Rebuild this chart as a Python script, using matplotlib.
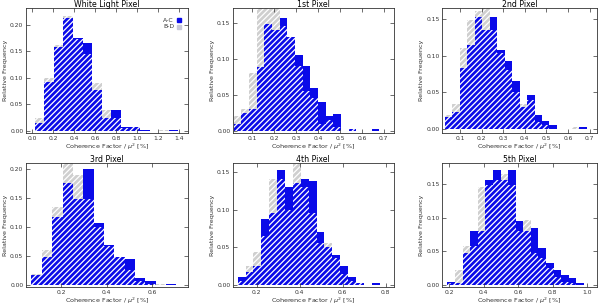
import numpy as np
import matplotlib
matplotlib.use('Agg')
import matplotlib.pyplot as plt
from matplotlib.ticker import MultipleLocator, FormatStrFormatter

titles = ['White Light Pixel', '1st Pixel', '2nd Pixel',
          '3rd Pixel', '4th Pixel', '5th Pixel']

# histogram binning (first edge, bin width) for each panel
bin_start = [0.025, 0.015, 0.031, 0.070, 0.111, 0.190]
bin_width = [0.091, 0.035, 0.0345, 0.0455, 0.0367, 0.044]

# relative frequencies, A-C (blue) and B-D (grey)
ac_white = [0.015, 0.093, 0.158, 0.213, 0.176, 0.165, 0.077, 0.025, 0.039,
            0.008, 0.008, 0.002, 0.0, 0.0, 0.002]
bd_white = [0.025, 0.100, 0.162, 0.217, 0.174, 0.145, 0.090, 0.039, 0.025,
            0.005, 0.008, 0.0, 0.0, 0.002, 0.0]

ac_px1 = [0.010, 0.025, 0.030, 0.088, 0.148, 0.140, 0.157, 0.130, 0.105, 0.090,
          0.060, 0.040, 0.020, 0.023, 0.0, 0.003, 0.0, 0.0, 0.003]
bd_px1 = [0.020, 0.030, 0.080, 0.190, 0.200, 0.180, 0.145, 0.130, 0.090, 0.055,
          0.045, 0.010, 0.015, 0.005, 0.0, 0.003, 0.0, 0.0, 0.0]

ac_px2 = [0.017, 0.023, 0.083, 0.114, 0.152, 0.134, 0.152, 0.108, 0.092, 0.066,
          0.030, 0.047, 0.020, 0.012, 0.006, 0.0, 0.0, 0.0, 0.003]
bd_px2 = [0.020, 0.035, 0.110, 0.148, 0.160, 0.165, 0.134, 0.104, 0.080, 0.050,
          0.035, 0.040, 0.010, 0.006, 0.0, 0.0, 0.0, 0.003, 0.0]

ac_px3 = [0.018, 0.048, 0.118, 0.175, 0.148, 0.200, 0.107, 0.070, 0.048, 0.045,
          0.013, 0.007, 0.0, 0.003]
bd_px3 = [0.020, 0.060, 0.135, 0.210, 0.190, 0.148, 0.100, 0.068, 0.048, 0.027,
          0.007, 0.003, 0.002, 0.0]

ac_px4 = [0.010, 0.017, 0.025, 0.088, 0.095, 0.152, 0.130, 0.135, 0.140, 0.138,
          0.070, 0.050, 0.040, 0.025, 0.010, 0.003, 0.0, 0.003]
bd_px4 = [0.005, 0.025, 0.043, 0.065, 0.140, 0.140, 0.100, 0.160, 0.130, 0.095,
          0.055, 0.055, 0.035, 0.015, 0.005, 0.003, 0.0, 0.0]

ac_px5 = [0.005, 0.003, 0.048, 0.080, 0.080, 0.155, 0.170, 0.155, 0.170, 0.095,
          0.080, 0.085, 0.055, 0.032, 0.022, 0.015, 0.010, 0.003]
bd_px5 = [0.003, 0.022, 0.058, 0.058, 0.145, 0.148, 0.155, 0.165, 0.148, 0.080,
          0.097, 0.048, 0.040, 0.025, 0.012, 0.005, 0.003, 0.0]

ac_all = [ac_white, ac_px1, ac_px2, ac_px3, ac_px4, ac_px5]
bd_all = [bd_white, bd_px1, bd_px2, bd_px3, bd_px4, bd_px5]

xlims = [(-0.06, 1.48), (0.011, 0.745), (0.018, 0.734),
         (0.045, 0.757), (0.088, 0.837), (0.16, 1.057)]
ylims = [(-0.004, 0.231), (-0.003, 0.17), (-0.005, 0.164),
         (-0.003, 0.21), (-0.003, 0.162), (-0.003, 0.181)]
xstep = [0.2, 0.1, 0.1, 0.2, 0.2, 0.2]

BLUE = '#0a0ae8'
GREY = '#cfcfcf'
AXC = '#333333'

plt.rcParams['hatch.linewidth'] = 0.9
plt.rcParams['font.family'] = 'DejaVu Sans'

fig = plt.figure(figsize=(6.0, 3.08), dpi=100)

# axes boxes in figure fraction
lefts = [0.043, 0.388, 0.737]
widths = [0.270, 0.268, 0.258]
bottoms = [0.568, 0.068]
heights = [0.405, 0.403]

for i in range(6):
    r, c = divmod(i, 3)
    ax = fig.add_axes([lefts[c], bottoms[r], widths[c], heights[r]])
    ac = np.array(ac_all[i])
    bd = np.array(bd_all[i])
    left = bin_start[i] + bin_width[i] * np.arange(len(ac))
    w = bin_width[i]
    ax.bar(left, bd, w, align='edge', color=GREY, lw=0)
    ax.bar(left, ac, w, align='edge', color=BLUE, lw=0)
    ax.bar(left, bd, w, align='edge', facecolor='none', edgecolor='white',
           hatch='//////', lw=0)

    ax.set_xlim(*xlims[i])
    ax.set_ylim(*ylims[i])
    ax.xaxis.set_major_locator(MultipleLocator(xstep[i]))
    ax.yaxis.set_major_locator(MultipleLocator(0.05))
    ax.xaxis.set_major_formatter(FormatStrFormatter('%.1f'))
    ax.yaxis.set_major_formatter(FormatStrFormatter('%.2f'))
    ax.tick_params(direction='in', top=True, right=True, length=3, width=0.5,
                   labelsize=4.3, colors=AXC, pad=1.8)
    for s in ax.spines.values():
        s.set_linewidth(0.6)
        s.set_color(AXC)
    ax.set_title(titles[i], fontsize=5.6, pad=1.0, color='black')
    ax.set_xlabel(r'Coherence Factor / $\mu^2$ [%]', fontsize=4.6, labelpad=0.5,
                  color=AXC)
    ax.set_ylabel('Relative Frequency', fontsize=4.6, labelpad=1.5, color=AXC)

    if i == 0:
        ax.text(0.915, 0.905, 'A-C', transform=ax.transAxes, fontsize=4.4,
                ha='right', va='center', color=AXC)
        ax.text(0.915, 0.852, 'B-D', transform=ax.transAxes, fontsize=4.4,
                ha='right', va='center', color=AXC)
        ax.plot([0.945], [0.905], 's', ms=3, color=BLUE,
                transform=ax.transAxes)
        ax.plot([0.945], [0.852], 's', ms=3, color='#c8c8d8',
                transform=ax.transAxes)

fig.savefig('out.png', dpi=100)
